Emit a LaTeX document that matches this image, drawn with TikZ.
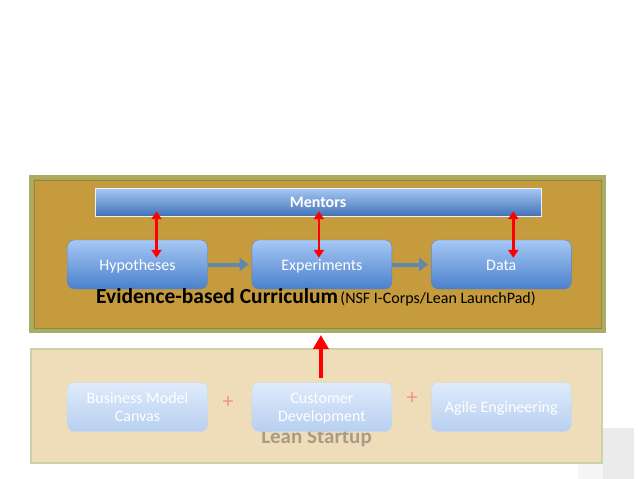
\documentclass[tikz,border=0pt]{standalone}
\usepackage{fontspec}
\setmainfont{Carlito}
\usetikzlibrary{arrows.meta,positioning}
\definecolor{goldfill}{HTML}{C59B3D}
\definecolor{olivebrd}{HTML}{A9AD62}
\definecolor{sandfill}{HTML}{EEDDB8}
\definecolor{sandbrd}{HTML}{CAD3A8}
\definecolor{boxtop}{HTML}{A6C8F4}
\definecolor{boxbot}{HTML}{4A80CC}
\definecolor{boxline}{HTML}{5A86BE}
\definecolor{fadetop}{HTML}{DFEBFB}
\definecolor{fadebot}{HTML}{B7CFF0}
\definecolor{fadeline}{HTML}{C9D8EE}
\definecolor{flowgrey}{HTML}{5E89AA}
\definecolor{plusred}{HTML}{F29090}
\definecolor{leangrey}{HTML}{A69C88}
\begin{document}
\begin{tikzpicture}[x=1pt,y=-1pt,
panel/.style={draw=olivebrd,line width=4pt,fill=goldfill,minimum width=573pt,minimum height=154pt},
startpanel/.style={draw=sandbrd,line width=2pt,fill=sandfill,minimum width=571pt,minimum height=114pt},
box/.style={draw=boxline,rounded corners=7pt,top color=boxtop,bottom color=boxbot,minimum width=140pt,minimum height=49pt,text=white,align=center,text height=11pt,text depth=0pt,font=\fontsize{16}{18}\selectfont},
twoline/.style={text height=29pt},
fadebox/.style={box,draw=fadeline,top color=fadetop,bottom color=fadebot},
bar/.style={draw=white!75!boxtop,top color=boxtop,bottom color=boxbot!90!black,minimum width=446pt,minimum height=28pt,text=white,text height=11pt,text depth=0pt,font=\fontsize{16}{18}\selectfont\bfseries},
flow/.style={-{Triangle[length=9pt,width=13pt]},line width=4pt,draw=flowgrey,shorten >=3pt},
link/.style={{Triangle[length=8pt,width=10pt]}-{Triangle[length=8pt,width=10pt]},line width=2.5pt,red},
lift/.style={-{Triangle[length=14pt,width=15pt]},line width=4pt,red,shorten >=2pt},
plus/.style={text=plusred,font=\fontsize{22}{22}\selectfont}]
\useasboundingbox (0,0) rectangle (638,479);
% corner tabs
\fill[black!4] (578,428) rectangle (603,479);
\fill[black!8] (603,428) rectangle (634,479);
% evidence-based curriculum
\node[panel](curr) at (317.5,254) {};
\draw[olivebrd!80!black,line width=.6pt]([shift={(5pt,-5pt)}]curr.north west) rectangle ([shift={(-5pt,5pt)}]curr.south east);
\node[bar](mentors) at (318,202) {Mentors};
\node[box](hyp) at (137.5,264.5) {Hypotheses};
\node[box,right=44pt of hyp](exp) {Experiments};
\node[box,right=39pt of exp](data) {Data};
\node[anchor=base](evid) at (316,303) {{\fontsize{21.5}{23}\selectfont\bfseries Evidence-based Curriculum} {\fontsize{16}{18}\selectfont(NSF I-Corps/Lean LaunchPad)}};
\draw[flow](hyp)--(exp);\draw[flow](exp)--(data);
\path([xshift=19pt]hyp.north)coordinate(h1);
\path([xshift=-3pt]exp.north)coordinate(e1);
\path([xshift=12pt]data.north)coordinate(d1);
\draw[link]([yshift=5pt]mentors.south -| h1)--([yshift=-18pt]h1);
\draw[link]([yshift=5pt]mentors.south -| e1)--([yshift=-18pt]e1);
\draw[link]([yshift=5pt]mentors.south -| d1)--([yshift=-18pt]d1);
% lean startup
\node[startpanel](lean) at (316.5,406) {};
\node[anchor=base,text=leangrey,font=\fontsize{21}{23}\selectfont\bfseries](leanlbl) at (316.5,443) {Lean Startup};
\node[fadebox,twoline](bmc) at (137.5,407) {Business Model\\Canvas};
\node[fadebox,twoline,right=44pt of bmc](cust) {Customer\\Development};
\node[fadebox,right=39pt of cust](agile) {Agile Engineering};
\node[plus](p1) at (228,402) {+};
\node[plus](p2) at (412,398) {+};
\draw[lift]([xshift=-1pt,yshift=4pt]cust.north)--([xshift=-1pt]cust.north |- curr.south);
\end{tikzpicture}
\end{document}
